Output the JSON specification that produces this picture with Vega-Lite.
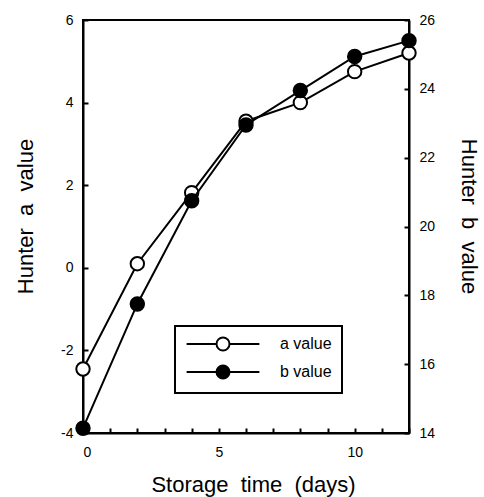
{
  "$schema": "https://vega.github.io/schema/vega-lite/v6.json",
  "width": 326,
  "height": 413,
  "autosize": "none",
  "padding": {"left": 83, "top": 20, "right": 75, "bottom": 64},
  "background": "white",
  "config": {
    "font": "Liberation Sans",
    "view": {"stroke": "black", "strokeWidth": 2},
    "legend": {"strokeWidth": 2},
    "axis": {
      "domainColor": "black",
      "domainWidth": 2,
      "tickColor": "black",
      "tickWidth": 2,
      "tickSize": -5,
      "grid": false,
      "labelFont": "Liberation Sans",
      "labelFontSize": 14,
      "labelColor": "black",
      "titleFont": "Liberation Sans",
      "titleFontSize": 22,
      "titleFontWeight": "normal",
      "titleColor": "black"
    }
  },
  "data": {
    "values": [
      {"day": 0, "series": "a value", "value": -2.45},
      {"day": 2, "series": "a value", "value": 0.1},
      {"day": 4, "series": "a value", "value": 1.82},
      {"day": 6, "series": "a value", "value": 3.55},
      {"day": 8, "series": "a value", "value": 4.0},
      {"day": 10, "series": "a value", "value": 4.75},
      {"day": 12, "series": "a value", "value": 5.2},
      {"day": 0, "series": "b value", "value": 14.14},
      {"day": 2, "series": "b value", "value": 17.75},
      {"day": 4, "series": "b value", "value": 20.75},
      {"day": 6, "series": "b value", "value": 22.95},
      {"day": 8, "series": "b value", "value": 23.95},
      {"day": 10, "series": "b value", "value": 24.94},
      {"day": 12, "series": "b value", "value": 25.4}
    ]
  },
  "encoding": {
    "x": {
      "field": "day",
      "type": "quantitative",
      "scale": {"domain": [0, 12], "nice": false, "zero": false},
      "axis": {
        "title": "Storage\u00a0 time\u00a0 (days)",
        "values": [0, 1, 2, 3, 4, 5, 6, 7, 8, 9, 10, 11, 12],
        "labelExpr": "datum.value % 5 === 0 ? datum.label : ''",
        "labelPadding": 17,
        "titlePadding": 15,
        "titleX": 170
      }
    }
  },
  "layer": [
    {
      "transform": [{"filter": "datum.series === 'a value'"}],
      "encoding": {
        "y": {
          "field": "value",
          "type": "quantitative",
          "scale": {"domain": [-4, 6], "nice": false, "zero": false},
          "axis": {
            "orient": "left",
            "title": "Hunter\u00a0 a\u00a0 value",
            "values": [-4, -2, 0, 2, 4, 6],
            "labelExpr": "'' + datum.value",
            "labelPadding": 15,
            "titlePadding": 23,
            "titleY": 196
          }
        }
      },
      "layer": [
        {"mark": {"type": "line", "color": "black", "strokeWidth": 2}},
        {
          "mark": {"type": "point", "filled": true, "stroke": "black", "strokeWidth": 2, "size": 180, "opacity": 1},
          "encoding": {
            "fill": {
              "field": "series",
              "type": "nominal",
              "scale": {"domain": ["a value", "b value"], "range": ["white", "black"]},
              "legend": {
                "title": null,
                "orient": "none",
                "legendX": 92,
                "legendY": 306,
                "symbolType": "M-5.6,0H-1M1,0H5.6M-1,0A1,1,0,1,1,1,0A1,1,0,1,1,-1,0Z",
                "symbolSize": 169,
                "symbolStrokeColor": "black",
                "symbolStrokeWidth": 2,
                "symbolOffset": 30,
                "labelOffset": 49,
                "labelFont": "Liberation Sans",
                "labelFontSize": 16,
                "labelColor": "black",
                "rowPadding": 6,
                "padding": 10,
                "strokeColor": "black",
                "fillColor": "white"
              }
            }
          }
        }
      ]
    },
    {
      "transform": [{"filter": "datum.series === 'b value'"}],
      "encoding": {
        "y": {
          "field": "value",
          "type": "quantitative",
          "scale": {"domain": [14, 26], "nice": false, "zero": false},
          "axis": {
            "orient": "right",
            "title": "Hunter\u00a0 b\u00a0 value",
            "values": [14, 16, 18, 20, 22, 24, 26],
            "labelPadding": 15,
            "titlePadding": 22,
            "titleY": 196
          }
        }
      },
      "layer": [
        {"mark": {"type": "line", "color": "black", "strokeWidth": 2}},
        {
          "mark": {"type": "point", "filled": true, "stroke": "black", "strokeWidth": 2, "size": 180, "opacity": 1},
          "encoding": {
            "fill": {
              "field": "series",
              "type": "nominal",
              "scale": {"domain": ["a value", "b value"], "range": ["white", "black"]}
            }
          }
        }
      ]
    }
  ],
  "resolve": {"scale": {"y": "independent"}}
}
